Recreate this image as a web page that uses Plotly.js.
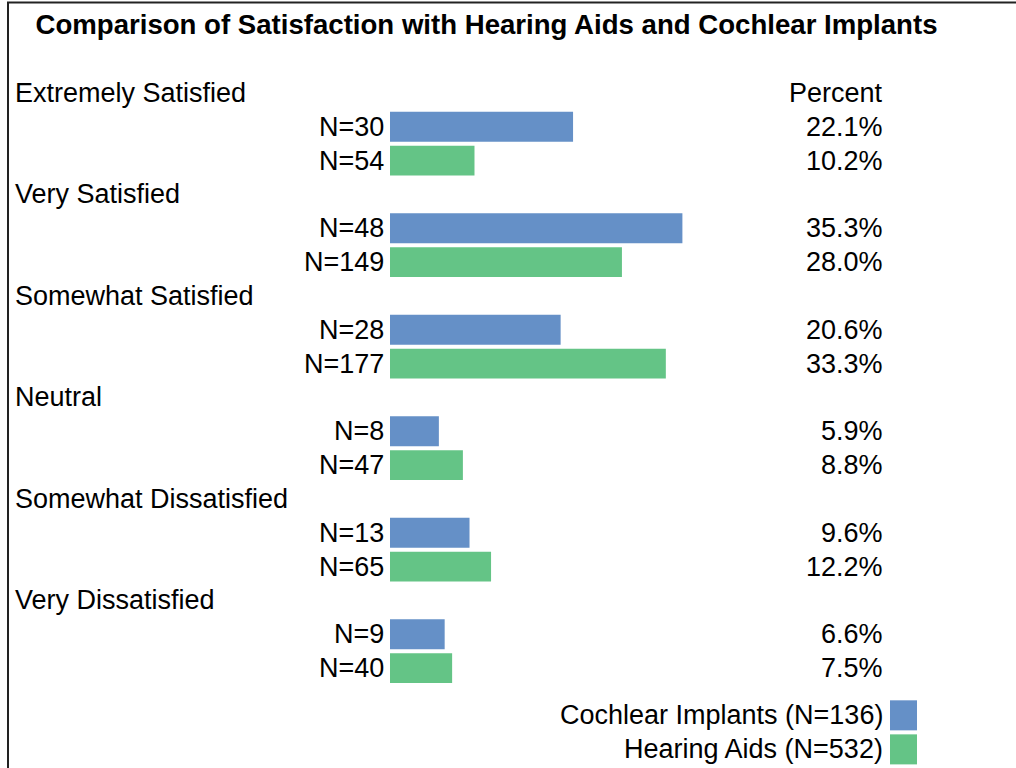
<!DOCTYPE html>
<html>
<head>
<meta charset="utf-8">
<script src="https://cdn.plot.ly/plotly-3.0.1.min.js"></script>
<style>html,body{margin:0;padding:0;background:#fff;}#chart{width:1016px;height:768px;}</style>
</head>
<body>
<div id="chart"></div>
<script>
var categories = ['Extremely Satisfied','Very Satisfied','Somewhat Satisfied','Neutral','Somewhat Dissatisfied','Very Dissatisfied'];
var ciN   = [30, 48, 28, 8, 13, 9];
var ciPct = [22.1, 35.3, 20.6, 5.9, 9.6, 6.6];
var haN   = [54, 149, 177, 47, 65, 40];
var haPct = [10.2, 28.0, 33.3, 8.8, 12.2, 7.5];
var seriesNames = ['Cochlear Implants (N=136)', 'Hearing Aids (N=532)'];
var colors = ['#6590C7', '#64C486'];

var W = 1016, H = 768;
var L = 390, R = 129, T = 76.4, B = 83.3;
var plotW = W - L - R, plotH = H - T - B;
function px(x){ return (x - L) / plotW; }
function py(y){ return (H - B - y) / plotH; }

var font = 'Liberation Sans, Arial, sans-serif';
var fs = 27;

var ciRows = categories.map(function(c,i){ return 3*i + 1; });
var haRows = categories.map(function(c,i){ return 3*i + 2; });

var traces = [
  {type:'bar', orientation:'h', x: ciPct, y: ciRows, width: 0.88, marker:{color: colors[0]}, hoverinfo:'skip', name: seriesNames[0]},
  {type:'bar', orientation:'h', x: haPct, y: haRows, width: 0.88, marker:{color: colors[1]}, hoverinfo:'skip', name: seriesNames[1]}
];

var ann = [];
categories.forEach(function(c,i){
  ann.push({xref:'paper', yref:'y', x: px(13), y: 3*i, text: c, showarrow:false, xanchor:'left', yanchor:'middle', font:{family:font, size:fs, color:'#000'}});
  ann.push({xref:'paper', yref:'y', x: px(386), y: ciRows[i], text: 'N=' + ciN[i], showarrow:false, xanchor:'right', yanchor:'middle', font:{family:font, size:fs, color:'#000'}});
  ann.push({xref:'paper', yref:'y', x: px(386), y: haRows[i], text: 'N=' + haN[i], showarrow:false, xanchor:'right', yanchor:'middle', font:{family:font, size:fs, color:'#000'}});
  ann.push({xref:'paper', yref:'y', x: px(885), y: ciRows[i], text: ciPct[i].toFixed(1) + '%', showarrow:false, xanchor:'right', yanchor:'middle', font:{family:font, size:fs, color:'#000'}});
  ann.push({xref:'paper', yref:'y', x: px(885), y: haRows[i], text: haPct[i].toFixed(1) + '%', showarrow:false, xanchor:'right', yanchor:'middle', font:{family:font, size:fs, color:'#000'}});
});
ann.push({xref:'paper', yref:'y', x: px(885), y: 0, text: 'Percent', showarrow:false, xanchor:'right', yanchor:'middle', font:{family:font, size:fs, color:'#000'}});

// legend (text then swatch)
var legY = [715, 749];
var shapes = [];
seriesNames.forEach(function(n,i){
  ann.push({xref:'paper', yref:'paper', x: px(885), y: py(legY[i]), text: n, showarrow:false, xanchor:'right', yanchor:'middle', font:{family:font, size:fs, color:'#000'}});
  shapes.push({type:'rect', xref:'paper', yref:'paper', x0: px(890), x1: px(917), y0: py(legY[i]-15), y1: py(legY[i]+15), fillcolor: colors[i], line:{width:0}});
});
// frame
shapes.push({type:'path', xref:'paper', yref:'paper',
  path: 'M ' + px(8) + ' ' + py(800) + ' L ' + px(8) + ' ' + py(3) + ' L ' + px(1030) + ' ' + py(3),
  line:{color:'#222', width:2}});

var layout = {
  width: W, height: H,
  margin: {l: L, r: R, t: T, b: B, pad: 0},
  paper_bgcolor: '#fff', plot_bgcolor: '#fff',
  showlegend: false,
  title: {text: '<b>Comparison of Satisfaction with Hearing Aids and Cochlear Implants</b>', xref:'container', yref:'container', x: 486.5/W, y: 1 - 24.5/H, xanchor:'center', yanchor:'middle', font:{family: font, size: 27.6, color:'#000'}},
  xaxis: {range: [0, 60], showgrid:false, zeroline:false, showticklabels:false, showline:false, ticks:'', fixedrange:true},
  yaxis: {range: [17.5, -0.5], showgrid:false, zeroline:false, showticklabels:false, showline:false, ticks:'', fixedrange:true},
  annotations: ann,
  shapes: shapes
};

Plotly.newPlot('chart', traces, layout, {displayModeBar:false, staticPlot:true});
</script>
</body>
</html>
